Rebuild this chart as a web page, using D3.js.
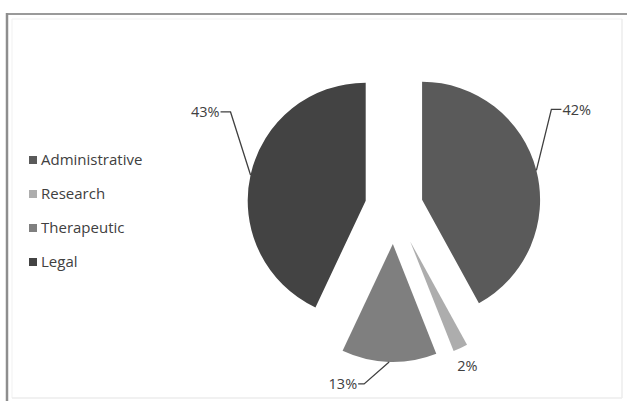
<!DOCTYPE html>
<html>
<head>
<meta charset="utf-8">
<script src="https://cdn.jsdelivr.net/npm/d3@7"></script>
<style>
  html, body { margin: 0; padding: 0; background: #fff; }
  svg { display: block; }
  text { font-family: "Open Sans", Lato, sans-serif; fill: #404040; }
</style>
</head>
<body>
<svg id="chart" width="627" height="401"></svg>
<script>
// Share of cases by type
const categories = ["Administrative", "Research", "Therapeutic", "Legal"];
const values = [42, 2, 13, 43];
const labels = ["42%", "2%", "13%", "43%"];

const colors = ["#5a5a5a", "#adadad", "#7f7f7f", "#434343"];
// how far each slice is pulled out from the centre
const explodeBy = [29, 38, 37, 29];

const W = 627, H = 401;
const svg = d3.select("#chart");

// frame
const frame = svg.append("g");
frame.append("line").attr("x1", 7).attr("y1", 14).attr("x2", W).attr("y2", 14)
  .attr("stroke", "#9a9a9a").attr("stroke-width", 2);
frame.append("line").attr("x1", 7).attr("y1", 13).attr("x2", 7).attr("y2", H)
  .attr("stroke", "#8e8e8e").attr("stroke-width", 2.5);
frame.append("line").attr("x1", 12).attr("y1", 19).attr("x2", 622).attr("y2", 19)
  .attr("stroke", "#f1f1f1").attr("stroke-width", 1);
frame.append("line").attr("x1", 12).attr("y1", 19).attr("x2", 12).attr("y2", 398)
  .attr("stroke", "#f1f1f1").attr("stroke-width", 1);
frame.append("line").attr("x1", 622).attr("y1", 19).attr("x2", 622).attr("y2", 398)
  .attr("stroke", "#ececec").attr("stroke-width", 1.5);
frame.append("line").attr("x1", 12).attr("y1", 398).attr("x2", 622).attr("y2", 398)
  .attr("stroke", "#ececec").attr("stroke-width", 1.5);

// pie
const cx = 394, cy = 207, R = 118;
const pie = d3.pie().sort(null).value(d => d.value).startAngle(0).endAngle(2 * Math.PI);
const arcs = pie(categories.map((c, i) => ({ name: c, value: values[i], i })));
const arc = d3.arc().innerRadius(0).outerRadius(R);

const g = svg.append("g").attr("transform", `translate(${cx},${cy})`);

function offset(a) {
  const mid = (a.startAngle + a.endAngle) / 2;
  const k = explodeBy[a.data.i];
  return [k * Math.sin(mid), -k * Math.cos(mid)];
}
function onRim(a) {
  const mid = (a.startAngle + a.endAngle) / 2;
  const [ox, oy] = offset(a);
  return [ox + R * Math.sin(mid), oy - R * Math.cos(mid)];
}

g.selectAll("path.slice").data(arcs).join("path")
  .attr("class", "slice")
  .attr("d", arc)
  .attr("fill", d => colors[d.data.i])
  .attr("transform", d => `translate(${offset(d)})`);

// data labels with leader lines
const labelPlan = {
  "Administrative": { elbow: [15, -61], run: 10, anchor: "start" },
  "Legal":          { elbow: [-20, -63], run: -10, anchor: "end" },
  "Therapeutic":    { elbow: [-25, 22], run: -6, anchor: "end" },
  "Research":       { text: [7, 18] }
};

arcs.forEach(a => {
  const plan = labelPlan[a.data.name];
  const [px, py] = onRim(a);
  const lbl = labels[a.data.i];
  if (plan.elbow) {
    const ex = px + plan.elbow[0], ey = py + plan.elbow[1];
    const tx = ex + plan.run;
    g.append("path")
      .attr("d", d3.line()([[px, py], [ex, ey], [tx, ey]]))
      .attr("fill", "none").attr("stroke", "#404040").attr("stroke-width", 1.3);
    g.append("text")
      .attr("x", tx + (plan.anchor === "start" ? 1 : -1))
      .attr("y", ey)
      .attr("dy", "0.35em")
      .attr("text-anchor", plan.anchor)
      .attr("font-size", 14.5)
      .text(lbl);
  } else {
    g.append("text")
      .attr("x", px + plan.text[0]).attr("y", py + plan.text[1])
      .attr("dy", "0.35em").attr("text-anchor", "middle")
      .attr("font-size", 14.5)
      .text(lbl);
  }
});

// legend
const legendY = d3.scalePoint().domain(categories).range([160, 262]);
const lg = svg.append("g");
const items = lg.selectAll("g").data(categories).join("g")
  .attr("transform", d => `translate(29,${legendY(d)})`);
items.append("rect").attr("x", 0).attr("y", -4).attr("width", 8).attr("height", 8)
  .attr("fill", (d, i) => colors[i]);
items.append("text").attr("x", 12).attr("y", 0).attr("dy", "0.35em")
  .attr("font-size", 15).text(d => d);
</script>
</body>
</html>
